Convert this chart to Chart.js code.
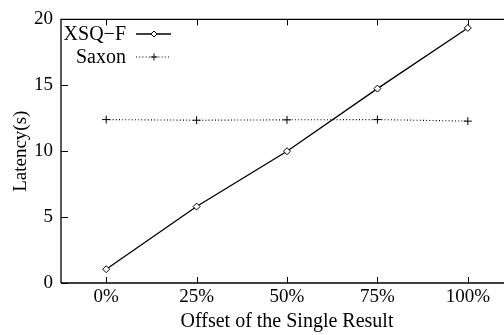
<!DOCTYPE html>
<html lang="en">
<head>
<meta charset="UTF-8">
<title>Latency vs offset</title>
<style>
  html, body { margin: 0; padding: 0; background: #fff; overflow: hidden; }
</style>
</head>
<body>
<canvas id="myChart" width="518" height="335"></canvas>
<script src="https://cdn.jsdelivr.net/npm/chart.js"></script>
<script>
const offsets = [0, 25, 50, 75, 100];
const tickLabels = ["0%", "25%", "50%", "75%", "100%"];
const xsqf = [1.05, 5.8, 10.0, 14.75, 19.35];
const saxon = [12.4, 12.35, 12.38, 12.4, 12.28];
const yTicks = [0, 5, 10, 15, 20];

const FONT = "'Liberation Serif', 'Times New Roman', serif";

// gnuplot-like frame: left/top border, inward ticks, legend at top-left
const framePlugin = {
  id: 'frame',
  afterDraw(chart) {
    const ctx = chart.ctx;
    const a = chart.chartArea;
    const x = chart.scales.x, y = chart.scales.y;
    ctx.save();
    ctx.strokeStyle = '#000';
    ctx.lineWidth = 1.3;
    ctx.beginPath();
    ctx.moveTo(a.left, a.bottom); ctx.lineTo(a.left, a.top); ctx.lineTo(a.right, a.top);
    ctx.moveTo(a.left, a.bottom); ctx.lineTo(a.right, a.bottom);
    ctx.stroke();
    ctx.lineWidth = 1;
    ctx.beginPath();
    offsets.forEach(v => {
      const px = Math.round(x.getPixelForValue(v)) + 0.5;
      ctx.moveTo(px, a.bottom); ctx.lineTo(px, a.bottom - 6);
      ctx.moveTo(px, a.top); ctx.lineTo(px, a.top + 6);
    });
    yTicks.forEach(v => {
      const py = Math.round(y.getPixelForValue(v)) + 0.5;
      ctx.moveTo(a.left, py); ctx.lineTo(a.left + 7, py);
    });
    ctx.stroke();

    // legend
    ctx.font = '20px ' + FONT;
    ctx.textAlign = 'right';
    ctx.textBaseline = 'middle';
    chart.data.datasets.forEach((ds, i) => {
      const ly = 34 + i * 23;
      ctx.fillStyle = '#000';
      ctx.fillText(ds.label, 126, ly + 1);
      ctx.strokeStyle = ds.borderColor;
      ctx.lineWidth = ds.borderWidth;
      ctx.setLineDash(ds.borderDash || []);
      ctx.beginPath();
      ctx.moveTo(136, ly); ctx.lineTo(171, ly);
      ctx.stroke();
      ctx.setLineDash([]);
      ctx.lineWidth = 1;
      ctx.fillStyle = '#fff';
      ctx.strokeStyle = '#000';
      Chart.helpers.drawPoint(ctx, {
        pointStyle: ds.pointStyle, radius: ds.pointRadius - 0.5, borderWidth: 1, rotation: 0
      }, 154, ly);
    });
    ctx.restore();
  }
};

new Chart(document.getElementById('myChart').getContext('2d'), {
  type: 'line',
  data: {
    datasets: [
      {
        label: 'XSQ\u2212F',
        data: offsets.map((o, i) => ({ x: o, y: xsqf[i] })),
        borderColor: '#000',
        borderWidth: 1.3,
        pointStyle: 'rectRot',
        pointRadius: 3.5,
        pointBackgroundColor: '#fff',
        pointBorderColor: '#000',
        pointBorderWidth: 1,
        tension: 0
      },
      {
        label: 'Saxon',
        data: offsets.map((o, i) => ({ x: o, y: saxon[i] })),
        borderColor: '#000',
        borderWidth: 1.1,
        borderDash: [1, 2.2],
        pointStyle: 'cross',
        pointRadius: 4,
        pointBorderColor: '#000',
        pointBorderWidth: 1,
        tension: 0
      }
    ]
  },
  options: {
    responsive: false,
    animation: false,
    layout: { padding: { top: 17, right: 0, left: 0, bottom: 0 } },
    plugins: { legend: { display: false }, tooltip: { enabled: false } },
    scales: {
      x: {
        type: 'linear',
        min: -12.5,
        max: 112.5,
        afterBuildTicks: s => { s.ticks = offsets.map(v => ({ value: v })); },
        afterFit: s => { s.height = 52; },
        grid: { display: false, drawTicks: false },
        border: { display: false },
        ticks: {
          padding: 3,
          color: '#000',
          font: { family: FONT, size: 19 },
          callback: (v) => tickLabels[offsets.indexOf(v)],
          maxRotation: 0
        },
        title: {
          display: true,
          text: 'Offset of the Single Result',
          color: '#000',
          font: { family: FONT, size: 20 },
          padding: { top: 0, bottom: 1 }
        }
      },
      y: {
        min: 0,
        max: 20,
        afterBuildTicks: s => { s.ticks = yTicks.map(v => ({ value: v })); },
        afterFit: s => { s.width = 61; },
        grid: { display: false, drawTicks: false },
        border: { display: false },
        ticks: {
          padding: 8,
          color: '#000',
          font: { family: FONT, size: 19 }
        },
        title: {
          display: true,
          text: 'Latency(s)',
          color: '#000',
          font: { family: FONT, size: 19 },
          padding: { top: 10, bottom: 0 }
        }
      }
    }
  },
  plugins: [framePlugin]
});
</script>
</body>
</html>
